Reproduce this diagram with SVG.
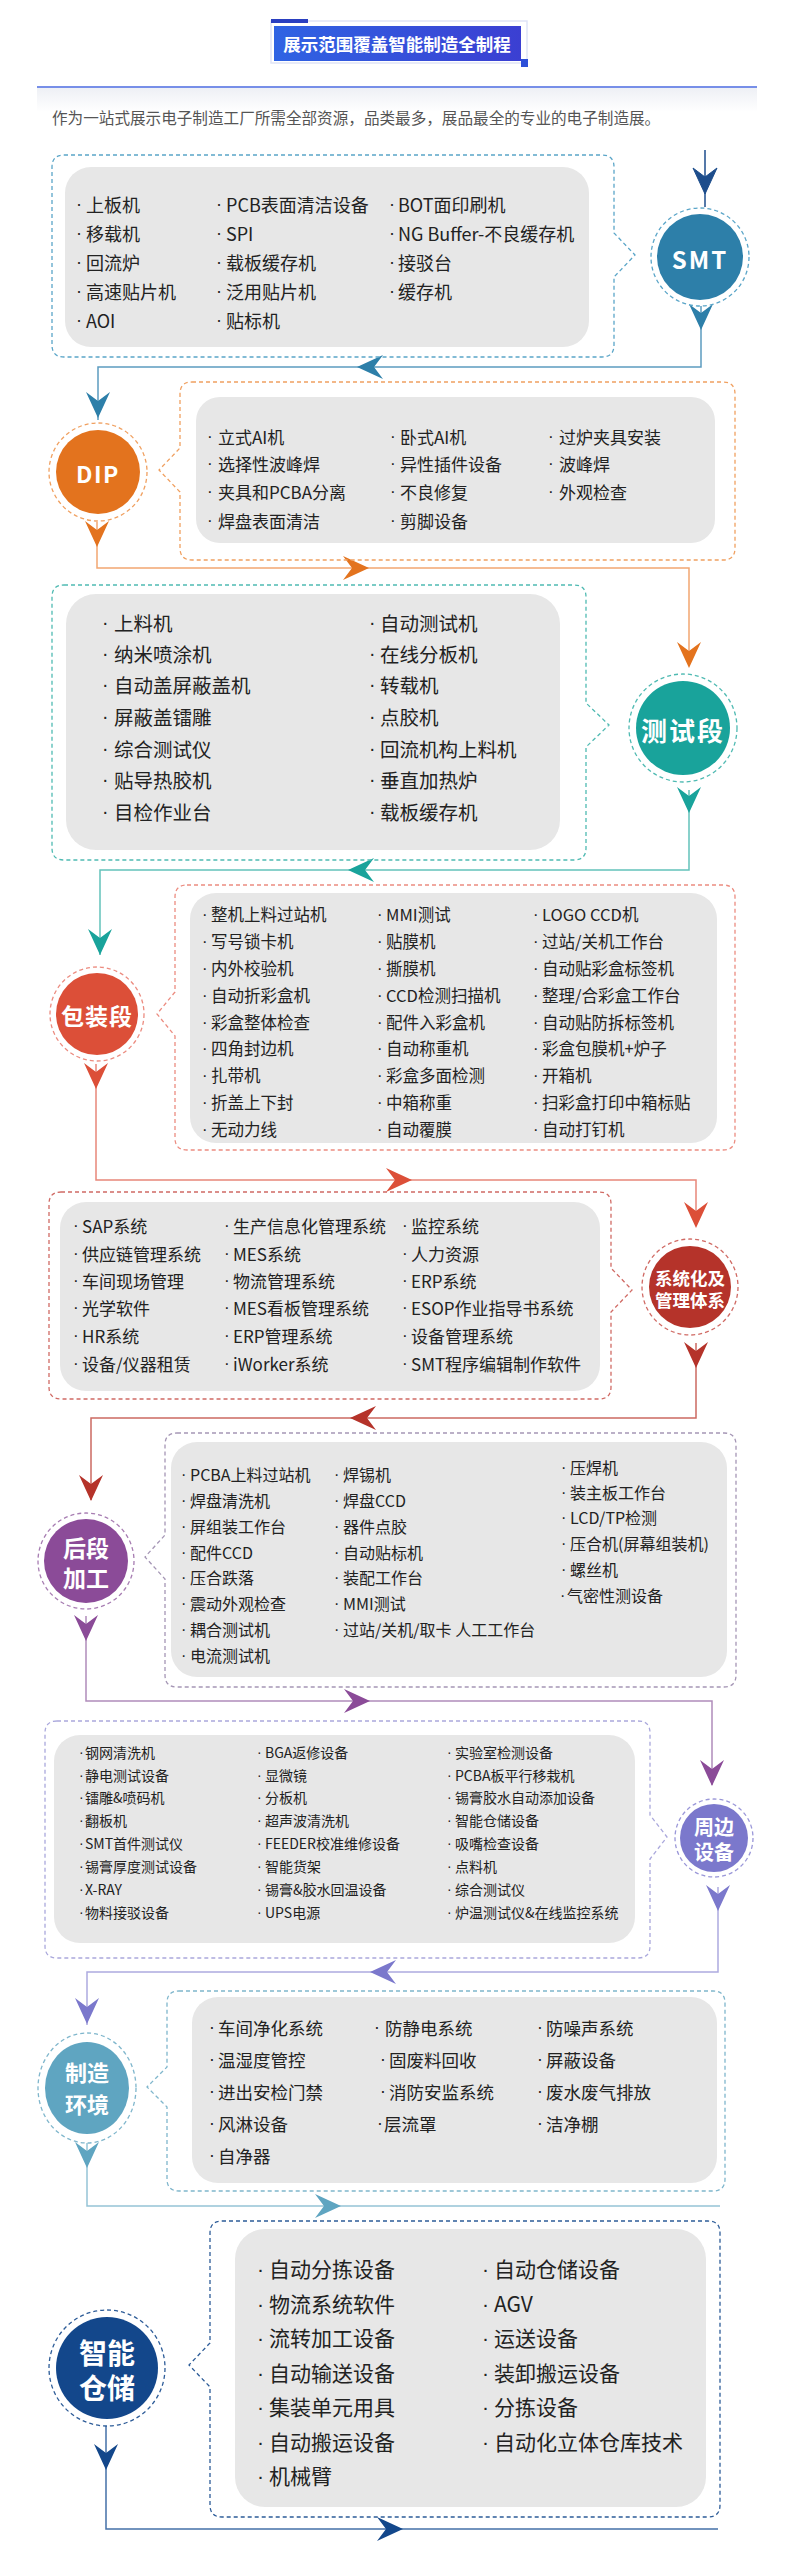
<svg xmlns="http://www.w3.org/2000/svg" width="787" height="2571" viewBox="0 0 787 2571">
<defs>
<linearGradient id="tg" x1="0" y1="0" x2="1" y2="0"><stop offset="0" stop-color="#2f63e3"/><stop offset="1" stop-color="#3b3fd2"/></linearGradient>
<linearGradient id="sh" x1="0" y1="0" x2="0" y2="1"><stop offset="0" stop-color="#eef0f5"/><stop offset="1" stop-color="#ffffff"/></linearGradient>
<path id="ah" d="M-12,-13 L0,-4 L12,-13 L0,13 Z"/>
</defs>
<style>
.t{font-family:"Noto Sans CJK SC","Noto Sans",sans-serif;fill:#222;dominant-baseline:central}
.d{font-family:"Liberation Sans",Arial,sans-serif}
.lab{font-family:"Noto Sans CJK SC","Noto Sans",sans-serif;font-weight:bold;fill:#fff;text-anchor:middle;dominant-baseline:central}
.box{fill:none;stroke-dasharray:4 3;stroke-width:1.3}
.ring{fill:none;stroke-dasharray:4 3;stroke-width:1.3}
.panel{fill:#e7e7e7}
.conn{fill:none;stroke-width:1.5}
</style>
<rect width="787" height="2571" fill="#ffffff"/>

<g id="header">
<rect x="271" y="21" width="256" height="42" fill="#ffffff" stroke="#dfe4f6" stroke-width="1.5"/>
<rect x="274" y="26" width="247" height="35" fill="url(#tg)"/>
<rect x="271" y="19" width="37" height="4" fill="#2a3fc0"/>
<rect x="521" y="59" width="7" height="8" fill="#2d4fd8"/>
<text class="lab" x="397" y="43" font-size="17.5">展示范围覆盖智能制造全制程</text>
<rect x="37" y="88" width="720" height="24" fill="url(#sh)"/>
<line x1="37" y1="87" x2="757" y2="87" stroke="#4a6ae0" stroke-width="1.5"/>
<text class="t" x="52" y="117" font-size="15.6" style="fill:#555">作为一站式展示电子制造工厂所需全部资源，品类最多，展品最全的专业的电子制造展。</text>
</g>

<g id="connectors">
<g stroke="#1d4d8c" fill="#1d4d8c"><line class="conn" x1="705" y1="150" x2="705" y2="207"/><use href="#ah" transform="translate(705,181)"/></g>
<g stroke="#5c9cc0" fill="#2d7fa9"><polyline class="conn" points="701,306 701,367 98,367 98,420"/><use href="#ah" stroke="none" transform="translate(701,317)"/><use href="#ah" stroke="none" transform="translate(370,367) rotate(90)"/><use href="#ah" stroke="none" transform="translate(98,405)"/></g>
<g stroke="#f2a772" fill="#e3731e"><polyline class="conn" points="97,522 97,568 689,568 689,666"/><use href="#ah" stroke="none" transform="translate(97,534)"/><use href="#ah" stroke="none" transform="translate(356,568) rotate(-90)"/><use href="#ah" stroke="none" transform="translate(689,655)"/></g>
<g stroke="#63c2bb" fill="#19a39b"><polyline class="conn" points="689,790 689,870 100,870 100,955"/><use href="#ah" stroke="none" transform="translate(689,800)"/><use href="#ah" stroke="none" transform="translate(361,870) rotate(90)"/><use href="#ah" stroke="none" transform="translate(100,942)"/></g>
<g stroke="#e8877a" fill="#dc4f38"><polyline class="conn" points="96,1064 96,1180 696,1180 696,1226"/><use href="#ah" stroke="none" transform="translate(96,1076)"/><use href="#ah" stroke="none" transform="translate(399,1180) rotate(-90)"/><use href="#ah" stroke="none" transform="translate(696,1215)"/></g>
<g stroke="#cc6a62" fill="#b5332a"><polyline class="conn" points="696,1343 696,1418 91,1418 91,1500"/><use href="#ah" stroke="none" transform="translate(696,1355)"/><use href="#ah" stroke="none" transform="translate(363,1418) rotate(90)"/><use href="#ah" stroke="none" transform="translate(91,1488)"/></g>
<g stroke="#b08cbb" fill="#8b4b98"><polyline class="conn" points="86,1616 86,1701 712,1701 712,1785"/><use href="#ah" stroke="none" transform="translate(86,1628)"/><use href="#ah" stroke="none" transform="translate(357,1701) rotate(-90)"/><use href="#ah" stroke="none" transform="translate(712,1773)"/></g>
<g stroke="#adabe0" fill="#7b78cc"><polyline class="conn" points="718,1887 718,1972 87,1972 87,2025"/><use href="#ah" stroke="none" transform="translate(718,1898)"/><use href="#ah" stroke="none" transform="translate(383,1972) rotate(90)"/><use href="#ah" stroke="none" transform="translate(87,2011)"/></g>
<g stroke="#95c3d6" fill="#5fa5c1"><polyline class="conn" points="87,2143 87,2206 720,2206"/><use href="#ah" stroke="none" transform="translate(87,2155)"/><use href="#ah" stroke="none" transform="translate(328,2206) rotate(-90)"/></g>
<g stroke="#4470a8" fill="#13478b"><polyline class="conn" points="106,2426 106,2529 718,2529"/><use href="#ah" stroke="none" transform="translate(106,2457)"/><use href="#ah" stroke="none" transform="translate(390,2529) rotate(-90)"/></g>
</g>

<g id="smt">
<path class="box" stroke="#5aa5c8" d="M64,155 H602 Q614,155 614,167 V233 L635,255 L614,277 V345 Q614,357 602,357 H64 Q52,357 52,345 V167 Q52,155 64,155 Z"/>
<rect class="panel" x="65" y="167" width="524" height="180" rx="26"/>
<g class="t" font-size="18">
<text x="76" y="204"><tspan class="d">·</tspan><tspan x="86">上板机</tspan></text>
<text x="76" y="233"><tspan class="d">·</tspan><tspan x="86">移载机</tspan></text>
<text x="76" y="262"><tspan class="d">·</tspan><tspan x="86">回流炉</tspan></text>
<text x="76" y="291"><tspan class="d">·</tspan><tspan x="86">高速贴片机</tspan></text>
<text x="76" y="320"><tspan class="d">·</tspan><tspan x="86">AOI</tspan></text>
<text x="216" y="204"><tspan class="d">·</tspan><tspan x="226">PCB表面清洁设备</tspan></text>
<text x="216" y="233"><tspan class="d">·</tspan><tspan x="226">SPI</tspan></text>
<text x="216" y="262"><tspan class="d">·</tspan><tspan x="226">载板缓存机</tspan></text>
<text x="216" y="291"><tspan class="d">·</tspan><tspan x="226">泛用贴片机</tspan></text>
<text x="216" y="320"><tspan class="d">·</tspan><tspan x="226">贴标机</tspan></text>
<text x="389" y="204"><tspan class="d">·</tspan><tspan x="398">BOT面印刷机</tspan></text>
<text x="389" y="233"><tspan class="d">·</tspan><tspan x="398">NG Buffer-不良缓存机</tspan></text>
<text x="389" y="262"><tspan class="d">·</tspan><tspan x="398">接驳台</tspan></text>
<text x="389" y="291"><tspan class="d">·</tspan><tspan x="398">缓存机</tspan></text>
</g>
<circle class="ring" cx="700" cy="257" r="49" stroke="#5aa5c8"/>
<circle cx="700" cy="257" r="43" fill="#2d7fa9"/>
<text class="lab" x="700" y="258" font-size="24" letter-spacing="2">SMT</text>
</g>

<g id="dip">
<path class="box" stroke="#f0a060" d="M192,382 H723 Q735,382 735,394 V548 Q735,560 723,560 H192 Q180,560 180,548 V492 L159,470 L180,448 V394 Q180,382 192,382 Z"/>
<rect class="panel" x="196" y="397" width="519" height="146" rx="24"/>
<g class="t" font-size="17">
<text x="207" y="436"><tspan class="d">·</tspan><tspan x="218">立式AI机</tspan></text>
<text x="207" y="463"><tspan class="d">·</tspan><tspan x="218">选择性波峰焊</tspan></text>
<text x="207" y="491"><tspan class="d">·</tspan><tspan x="218">夹具和PCBA分离</tspan></text>
<text x="207" y="520"><tspan class="d">·</tspan><tspan x="218">焊盘表面清洁</tspan></text>
<text x="390" y="436"><tspan class="d">·</tspan><tspan x="400">卧式AI机</tspan></text>
<text x="390" y="463"><tspan class="d">·</tspan><tspan x="400">异性插件设备</tspan></text>
<text x="390" y="491"><tspan class="d">·</tspan><tspan x="400">不良修复</tspan></text>
<text x="390" y="520"><tspan class="d">·</tspan><tspan x="400">剪脚设备</tspan></text>
<text x="548" y="436"><tspan class="d">·</tspan><tspan x="559">过炉夹具安装</tspan></text>
<text x="548" y="463"><tspan class="d">·</tspan><tspan x="559">波峰焊</tspan></text>
<text x="548" y="491"><tspan class="d">·</tspan><tspan x="559">外观检查</tspan></text>
</g>
<circle class="ring" cx="98" cy="472" r="49" stroke="#f0a060"/>
<circle cx="98" cy="472" r="42" fill="#e3731e"/>
<text class="lab" x="98" y="473" font-size="23" letter-spacing="1.5">DIP</text>
</g>

<g id="test">
<path class="box" stroke="#4fbab2" d="M64,585 H574 Q586,585 586,597 V703 L609,725 L586,747 V848 Q586,860 574,860 H64 Q52,860 52,848 V597 Q52,585 64,585 Z"/>
<rect class="panel" x="66" y="594" width="494" height="256" rx="30"/>
<g class="t" font-size="19.5">
<text x="102" y="622"><tspan class="d">·</tspan><tspan x="114">上料机</tspan></text>
<text x="102" y="653"><tspan class="d">·</tspan><tspan x="114">纳米喷涂机</tspan></text>
<text x="102" y="684"><tspan class="d">·</tspan><tspan x="114">自动盖屏蔽盖机</tspan></text>
<text x="102" y="716"><tspan class="d">·</tspan><tspan x="114">屏蔽盖镭雕</tspan></text>
<text x="102" y="748"><tspan class="d">·</tspan><tspan x="114">综合测试仪</tspan></text>
<text x="102" y="779"><tspan class="d">·</tspan><tspan x="114">贴导热胶机</tspan></text>
<text x="102" y="811"><tspan class="d">·</tspan><tspan x="114">目检作业台</tspan></text>
<text x="369" y="622"><tspan class="d">·</tspan><tspan x="380">自动测试机</tspan></text>
<text x="369" y="653"><tspan class="d">·</tspan><tspan x="380">在线分板机</tspan></text>
<text x="369" y="684"><tspan class="d">·</tspan><tspan x="380">转载机</tspan></text>
<text x="369" y="716"><tspan class="d">·</tspan><tspan x="380">点胶机</tspan></text>
<text x="369" y="748"><tspan class="d">·</tspan><tspan x="380">回流机构上料机</tspan></text>
<text x="369" y="779"><tspan class="d">·</tspan><tspan x="380">垂直加热炉</tspan></text>
<text x="369" y="811"><tspan class="d">·</tspan><tspan x="380">载板缓存机</tspan></text>
</g>
<circle class="ring" cx="683" cy="728" r="54" stroke="#4fbab2"/>
<circle cx="683" cy="728" r="47" fill="#19a39b"/>
<text class="lab" x="683" y="729" font-size="26" letter-spacing="2">测试段</text>
</g>

<g id="pack">
<path class="box" stroke="#ec8c80" d="M187,885 H723 Q735,885 735,897 V1138 Q735,1150 723,1150 H187 Q175,1150 175,1138 V1036 L157,1014 L175,992 V897 Q175,885 187,885 Z"/>
<rect class="panel" x="190" y="893" width="527" height="250" rx="26"/>
<g class="t" font-size="16.5">
<text x="202" y="914"><tspan class="d">·</tspan><tspan x="211">整机上料过站机</tspan></text>
<text x="202" y="941"><tspan class="d">·</tspan><tspan x="211">写号锁卡机</tspan></text>
<text x="202" y="968"><tspan class="d">·</tspan><tspan x="211">内外校验机</tspan></text>
<text x="202" y="995"><tspan class="d">·</tspan><tspan x="211">自动折彩盒机</tspan></text>
<text x="202" y="1022"><tspan class="d">·</tspan><tspan x="211">彩盒整体检查</tspan></text>
<text x="202" y="1048"><tspan class="d">·</tspan><tspan x="211">四角封边机</tspan></text>
<text x="202" y="1075"><tspan class="d">·</tspan><tspan x="211">扎带机</tspan></text>
<text x="202" y="1102"><tspan class="d">·</tspan><tspan x="211">折盖上下封</tspan></text>
<text x="202" y="1129"><tspan class="d">·</tspan><tspan x="211">无动力线</tspan></text>
<text x="377" y="914"><tspan class="d">·</tspan><tspan x="386">MMI测试</tspan></text>
<text x="377" y="941"><tspan class="d">·</tspan><tspan x="386">贴膜机</tspan></text>
<text x="377" y="968"><tspan class="d">·</tspan><tspan x="386">撕膜机</tspan></text>
<text x="377" y="995"><tspan class="d">·</tspan><tspan x="386">CCD检测扫描机</tspan></text>
<text x="377" y="1022"><tspan class="d">·</tspan><tspan x="386">配件入彩盒机</tspan></text>
<text x="377" y="1048"><tspan class="d">·</tspan><tspan x="386">自动称重机</tspan></text>
<text x="377" y="1075"><tspan class="d">·</tspan><tspan x="386">彩盒多面检测</tspan></text>
<text x="377" y="1102"><tspan class="d">·</tspan><tspan x="386">中箱称重</tspan></text>
<text x="377" y="1129"><tspan class="d">·</tspan><tspan x="386">自动覆膜</tspan></text>
<text x="533" y="914"><tspan class="d">·</tspan><tspan x="542">LOGO CCD机</tspan></text>
<text x="533" y="941"><tspan class="d">·</tspan><tspan x="542">过站/关机工作台</tspan></text>
<text x="533" y="968"><tspan class="d">·</tspan><tspan x="542">自动贴彩盒标签机</tspan></text>
<text x="533" y="995"><tspan class="d">·</tspan><tspan x="542">整理/合彩盒工作台</tspan></text>
<text x="533" y="1022"><tspan class="d">·</tspan><tspan x="542">自动贴防拆标签机</tspan></text>
<text x="533" y="1048"><tspan class="d">·</tspan><tspan x="542">彩盒包膜机+炉子</tspan></text>
<text x="533" y="1075"><tspan class="d">·</tspan><tspan x="542">开箱机</tspan></text>
<text x="533" y="1102"><tspan class="d">·</tspan><tspan x="542">扫彩盒打印中箱标贴</tspan></text>
<text x="533" y="1129"><tspan class="d">·</tspan><tspan x="542">自动打钉机</tspan></text>
</g>
<circle class="ring" cx="97" cy="1014" r="47" stroke="#ec8c80"/>
<circle cx="97" cy="1014" r="41" fill="#dc4f38"/>
<text class="lab" x="97" y="1015" font-size="23" letter-spacing="1">包装段</text>
</g>

<g id="system">
<path class="box" stroke="#d06a64" d="M61,1192 H599 Q611,1192 611,1204 V1268 L632,1290 L611,1312 V1387 Q611,1399 599,1399 H61 Q49,1399 49,1387 V1204 Q49,1192 61,1192 Z"/>
<rect class="panel" x="60" y="1202" width="540" height="189" rx="26"/>
<g class="t" font-size="17">
<text x="73" y="1225"><tspan class="d">·</tspan><tspan x="82">SAP系统</tspan></text>
<text x="73" y="1253"><tspan class="d">·</tspan><tspan x="82">供应链管理系统</tspan></text>
<text x="73" y="1280"><tspan class="d">·</tspan><tspan x="82">车间现场管理</tspan></text>
<text x="73" y="1307"><tspan class="d">·</tspan><tspan x="82">光学软件</tspan></text>
<text x="73" y="1335"><tspan class="d">·</tspan><tspan x="82">HR系统</tspan></text>
<text x="73" y="1363"><tspan class="d">·</tspan><tspan x="82">设备/仪器租赁</tspan></text>
<text x="224" y="1225"><tspan class="d">·</tspan><tspan x="233">生产信息化管理系统</tspan></text>
<text x="224" y="1253"><tspan class="d">·</tspan><tspan x="233">MES系统</tspan></text>
<text x="224" y="1280"><tspan class="d">·</tspan><tspan x="233">物流管理系统</tspan></text>
<text x="224" y="1307"><tspan class="d">·</tspan><tspan x="233">MES看板管理系统</tspan></text>
<text x="224" y="1335"><tspan class="d">·</tspan><tspan x="233">ERP管理系统</tspan></text>
<text x="224" y="1363"><tspan class="d">·</tspan><tspan x="233">iWorker系统</tspan></text>
<text x="402" y="1225"><tspan class="d">·</tspan><tspan x="411">监控系统</tspan></text>
<text x="402" y="1253"><tspan class="d">·</tspan><tspan x="411">人力资源</tspan></text>
<text x="402" y="1280"><tspan class="d">·</tspan><tspan x="411">ERP系统</tspan></text>
<text x="402" y="1307"><tspan class="d">·</tspan><tspan x="411">ESOP作业指导书系统</tspan></text>
<text x="402" y="1335"><tspan class="d">·</tspan><tspan x="411">设备管理系统</tspan></text>
<text x="402" y="1363"><tspan class="d">·</tspan><tspan x="411">SMT程序编辑制作软件</tspan></text>
</g>
<circle class="ring" cx="690" cy="1287" r="48" stroke="#d06a64"/>
<circle cx="690" cy="1287" r="41" fill="#b5332a"/>
<text class="lab" x="690" y="1277" font-size="17.5">系统化及</text>
<text class="lab" x="690" y="1299" font-size="17.5">管理体系</text>
</g>

<g id="post">
<path class="box" stroke="#a596b5" d="M177,1433 H724 Q736,1433 736,1445 V1675 Q736,1687 724,1687 H177 Q165,1687 165,1675 V1579 L145,1557 L165,1535 V1445 Q165,1433 177,1433 Z"/>
<rect class="panel" x="171" y="1442" width="556" height="235" rx="26"/>
<g class="t" font-size="16">
<text x="181" y="1474"><tspan class="d">·</tspan><tspan x="190">PCBA上料过站机</tspan></text>
<text x="181" y="1500"><tspan class="d">·</tspan><tspan x="190">焊盘清洗机</tspan></text>
<text x="181" y="1526"><tspan class="d">·</tspan><tspan x="190">屏组装工作台</tspan></text>
<text x="181" y="1552"><tspan class="d">·</tspan><tspan x="190">配件CCD</tspan></text>
<text x="181" y="1577"><tspan class="d">·</tspan><tspan x="190">压合跌落</tspan></text>
<text x="181" y="1603"><tspan class="d">·</tspan><tspan x="190">震动外观检查</tspan></text>
<text x="181" y="1629"><tspan class="d">·</tspan><tspan x="190">耦合测试机</tspan></text>
<text x="181" y="1655"><tspan class="d">·</tspan><tspan x="190">电流测试机</tspan></text>
<text x="334" y="1474"><tspan class="d">·</tspan><tspan x="343">焊锡机</tspan></text>
<text x="334" y="1500"><tspan class="d">·</tspan><tspan x="343">焊盘CCD</tspan></text>
<text x="334" y="1526"><tspan class="d">·</tspan><tspan x="343">器件点胶</tspan></text>
<text x="334" y="1552"><tspan class="d">·</tspan><tspan x="343">自动贴标机</tspan></text>
<text x="334" y="1577"><tspan class="d">·</tspan><tspan x="343">装配工作台</tspan></text>
<text x="334" y="1603"><tspan class="d">·</tspan><tspan x="343">MMI测试</tspan></text>
<text x="334" y="1629"><tspan class="d">·</tspan><tspan x="343">过站/关机/取卡 人工工作台</tspan></text>
<text x="561" y="1467"><tspan class="d">·</tspan><tspan x="570">压焊机</tspan></text>
<text x="561" y="1492"><tspan class="d">·</tspan><tspan x="570">装主板工作台</tspan></text>
<text x="561" y="1517"><tspan class="d">·</tspan><tspan x="570">LCD/TP检测</tspan></text>
<text x="561" y="1543"><tspan class="d">·</tspan><tspan x="570">压合机(屏幕组装机)</tspan></text>
<text x="561" y="1569"><tspan class="d">·</tspan><tspan x="570">螺丝机</tspan></text>
<text x="560" y="1595"><tspan class="d">·</tspan><tspan x="567">气密性测设备</tspan></text>
</g>
<circle class="ring" cx="86" cy="1561" r="48" stroke="#a77db2"/>
<circle cx="86" cy="1561" r="42" fill="#8b4b98"/>
<text class="lab" x="86" y="1547" font-size="23">后段</text>
<text class="lab" x="86" y="1577" font-size="23">加工</text>
</g>

<g id="periph">
<path class="box" stroke="#aaa8dc" d="M57,1721 H638 Q650,1721 650,1733 V1815 L667,1837 L650,1859 V1946 Q650,1958 638,1958 H57 Q45,1958 45,1946 V1733 Q45,1721 57,1721 Z"/>
<rect class="panel" x="54" y="1735" width="581" height="208" rx="26"/>
<g class="t" font-size="14">
<text x="79" y="1752"><tspan class="d">·</tspan><tspan x="85">钢网清洗机</tspan></text>
<text x="79" y="1775"><tspan class="d">·</tspan><tspan x="85">静电测试设备</tspan></text>
<text x="79" y="1797"><tspan class="d">·</tspan><tspan x="85">镭雕&amp;喷码机</tspan></text>
<text x="79" y="1820"><tspan class="d">·</tspan><tspan x="85">翻板机</tspan></text>
<text x="79" y="1843"><tspan class="d">·</tspan><tspan x="85">SMT首件测试仪</tspan></text>
<text x="79" y="1866"><tspan class="d">·</tspan><tspan x="85">锡膏厚度测试设备</tspan></text>
<text x="79" y="1889"><tspan class="d">·</tspan><tspan x="85">X-RAY</tspan></text>
<text x="79" y="1912"><tspan class="d">·</tspan><tspan x="85">物料接驳设备</tspan></text>
<text x="257" y="1752"><tspan class="d">·</tspan><tspan x="265">BGA返修设备</tspan></text>
<text x="257" y="1775"><tspan class="d">·</tspan><tspan x="265">显微镜</tspan></text>
<text x="257" y="1797"><tspan class="d">·</tspan><tspan x="265">分板机</tspan></text>
<text x="257" y="1820"><tspan class="d">·</tspan><tspan x="265">超声波清洗机</tspan></text>
<text x="257" y="1843"><tspan class="d">·</tspan><tspan x="265">FEEDER校准维修设备</tspan></text>
<text x="257" y="1866"><tspan class="d">·</tspan><tspan x="265">智能货架</tspan></text>
<text x="257" y="1889"><tspan class="d">·</tspan><tspan x="265">锡膏&amp;胶水回温设备</tspan></text>
<text x="257" y="1912"><tspan class="d">·</tspan><tspan x="265">UPS电源</tspan></text>
<text x="447" y="1752"><tspan class="d">·</tspan><tspan x="455">实验室检测设备</tspan></text>
<text x="447" y="1775"><tspan class="d">·</tspan><tspan x="455">PCBA板平行移栽机</tspan></text>
<text x="447" y="1797"><tspan class="d">·</tspan><tspan x="455">锡膏胶水自动添加设备</tspan></text>
<text x="447" y="1820"><tspan class="d">·</tspan><tspan x="455">智能仓储设备</tspan></text>
<text x="447" y="1843"><tspan class="d">·</tspan><tspan x="455">吸嘴检查设备</tspan></text>
<text x="447" y="1866"><tspan class="d">·</tspan><tspan x="455">点料机</tspan></text>
<text x="447" y="1889"><tspan class="d">·</tspan><tspan x="455">综合测试仪</tspan></text>
<text x="447" y="1912"><tspan class="d">·</tspan><tspan x="455">炉温测试仪&amp;在线监控系统</tspan></text>
</g>
<circle class="ring" cx="714" cy="1838" r="39" stroke="#9a97d8"/>
<circle cx="714" cy="1838" r="34" fill="#7b78cc"/>
<text class="lab" x="714" y="1826" font-size="20">周边</text>
<text class="lab" x="714" y="1851" font-size="20">设备</text>
</g>

<g id="env">
<path class="box" stroke="#7fb6cc" d="M179,1991 H713 Q725,1991 725,2003 V2179 Q725,2191 713,2191 H179 Q167,2191 167,2179 V2107 L147,2087 L167,2067 V2003 Q167,1991 179,1991 Z"/>
<rect class="panel" x="192" y="1997" width="525" height="186" rx="26"/>
<g class="t" font-size="17.5">
<text x="209" y="2027"><tspan class="d">·</tspan><tspan x="218">车间净化系统</tspan></text>
<text x="209" y="2059"><tspan class="d">·</tspan><tspan x="218">温湿度管控</tspan></text>
<text x="209" y="2091"><tspan class="d">·</tspan><tspan x="218">进出安检门禁</tspan></text>
<text x="209" y="2123"><tspan class="d">·</tspan><tspan x="218">风淋设备</tspan></text>
<text x="209" y="2155"><tspan class="d">·</tspan><tspan x="218">自净器</tspan></text>
<text x="374" y="2027"><tspan class="d">·</tspan><tspan x="385">防静电系统</tspan></text>
<text x="380" y="2059"><tspan class="d">·</tspan><tspan x="389">固废料回收</tspan></text>
<text x="380" y="2091"><tspan class="d">·</tspan><tspan x="389">消防安监系统</tspan></text>
<text x="377" y="2123"><tspan class="d">·</tspan><tspan x="384">层流罩</tspan></text>
<text x="537" y="2027"><tspan class="d">·</tspan><tspan x="546">防噪声系统</tspan></text>
<text x="537" y="2059"><tspan class="d">·</tspan><tspan x="546">屏蔽设备</tspan></text>
<text x="537" y="2091"><tspan class="d">·</tspan><tspan x="546">废水废气排放</tspan></text>
<text x="537" y="2123"><tspan class="d">·</tspan><tspan x="546">洁净棚</tspan></text>
</g>
<ellipse class="ring" cx="87" cy="2088" rx="49" ry="55" stroke="#7fb6cc"/>
<ellipse cx="87" cy="2088" rx="42" ry="46" fill="#5fa5c1"/>
<text class="lab" x="87" y="2071" font-size="22">制造</text>
<text class="lab" x="87" y="2103" font-size="22">环境</text>
</g>

<g id="storage">
<path class="box" stroke="#2d5c98" d="M222,2221 H708 Q720,2221 720,2233 V2505 Q720,2517 708,2517 H222 Q210,2517 210,2505 V2387 L189,2365 L210,2343 V2233 Q210,2221 222,2221 Z"/>
<rect class="panel" x="235" y="2229" width="471" height="278" rx="30"/>
<g class="t" font-size="21">
<text x="257" y="2268"><tspan class="d">·</tspan><tspan x="269">自动分拣设备</tspan></text>
<text x="257" y="2303"><tspan class="d">·</tspan><tspan x="269">物流系统软件</tspan></text>
<text x="257" y="2337"><tspan class="d">·</tspan><tspan x="269">流转加工设备</tspan></text>
<text x="257" y="2372"><tspan class="d">·</tspan><tspan x="269">自动输送设备</tspan></text>
<text x="257" y="2406"><tspan class="d">·</tspan><tspan x="269">集装单元用具</tspan></text>
<text x="257" y="2441"><tspan class="d">·</tspan><tspan x="269">自动搬运设备</tspan></text>
<text x="257" y="2475"><tspan class="d">·</tspan><tspan x="269">机械臂</tspan></text>
<text x="482" y="2268"><tspan class="d">·</tspan><tspan x="494">自动仓储设备</tspan></text>
<text x="482" y="2303"><tspan class="d">·</tspan><tspan x="494">AGV</tspan></text>
<text x="482" y="2337"><tspan class="d">·</tspan><tspan x="494">运送设备</tspan></text>
<text x="482" y="2372"><tspan class="d">·</tspan><tspan x="494">装卸搬运设备</tspan></text>
<text x="482" y="2406"><tspan class="d">·</tspan><tspan x="494">分拣设备</tspan></text>
<text x="482" y="2441"><tspan class="d">·</tspan><tspan x="494">自动化立体仓库技术</tspan></text>
</g>
<circle class="ring" cx="107" cy="2368" r="58" stroke="#2d5c98"/>
<circle cx="107" cy="2368" r="51" fill="#13478b"/>
<text class="lab" x="107" y="2352" font-size="28">智能</text>
<text class="lab" x="107" y="2387" font-size="28">仓储</text>
</g>
</svg>
